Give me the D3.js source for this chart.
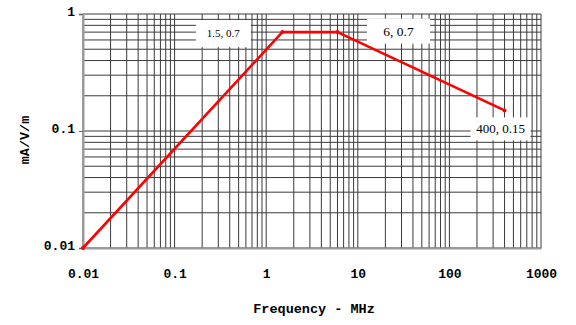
<!DOCTYPE html>
<html>
<head>
<meta charset="utf-8">
<script src="https://cdn.jsdelivr.net/npm/d3@7/dist/d3.min.js"></script>
<style>
  html, body { margin: 0; padding: 0; background: #fff; }
  svg { display: block; }
</style>
</head>
<body>
<svg id="chart" width="576" height="325"></svg>
<script>
// Emission limit curve: field strength (mA/V/m) versus frequency (MHz)
const freq = [0.01, 1.5, 6, 400];
const field = [0.01, 0.7, 0.7, 0.15];

// Labelled corner points: [frequency, value, offset x, offset y, font size, box width, box height]
const callouts = [
  [1.5, 0.7, -59, 1.5, 11, 55, 27],
  [6, 0.7, 61, -1, 13.5, 63, 25],
  [400, 0.15, -4, 18.5, 13, 60, 23]
];

const xTicks = [0.01, 0.1, 1, 10, 100, 1000];
const xTickLabels = ["0.01", "0.1", "1", "10", "100", "1000"];
const yTicks = [0.01, 0.1, 1];
const yTickLabels = ["0.01", "0.1", "1"];

const xTitle = "Frequency - MHz";
const yTitle = "mA/V/m";

const W = 576, H = 325;
const m = { left: 83, right: 35, top: 14, bottom: 77 };

const svg = d3.select("#chart");

const x = d3.scaleLog().domain([0.01, 1000]).range([m.left, W - m.right]);
const y = d3.scaleLog().domain([0.01, 1]).range([H - m.bottom, m.top]);

const monoFont = "'Liberation Mono', 'Courier New', monospace";
const serifFont = "'Liberation Serif', 'Times New Roman', serif";

// Full log grid: every 1..9 multiple within each decade
function logGrid(lo, hi) {
  const out = [];
  for (let d = lo; d < hi * 0.999; d *= 10) {
    for (let k = 1; k <= 9; k++) out.push(d * k);
  }
  out.push(hi);
  return out;
}
const xGrid = logGrid(0.01, 1000);
const yGrid = logGrid(0.01, 1);

const grid = svg.append("g").attr("stroke", "#3a3a3a").attr("stroke-width", 1);
grid.selectAll("line.v").data(xGrid).join("line")
  .attr("class", "v")
  .attr("x1", d => x(d)).attr("x2", d => x(d))
  .attr("y1", y(1)).attr("y2", y(0.01));
grid.selectAll("line.h").data(yGrid).join("line")
  .attr("class", "h")
  .attr("x1", x(0.01)).attr("x2", x(1000))
  .attr("y1", d => y(d)).attr("y2", d => y(d));

// Axes
const xAxis = d3.axisBottom(x).tickValues(xTicks)
  .tickFormat((d, i) => xTickLabels[i]).tickSize(0).tickPadding(21);
const gx = svg.append("g").attr("transform", `translate(0,${y(0.01)})`).call(xAxis);
gx.select(".domain").attr("stroke", "#999").attr("stroke-width", 2);
gx.selectAll("text").attr("font-family", monoFont).attr("font-weight", "bold")
  .attr("font-size", 13).attr("fill", "#000");

const yAxis = d3.axisLeft(y).tickValues(yTicks)
  .tickFormat((d, i) => yTickLabels[i]).tickSize(4).tickPadding(4);
const gy = svg.append("g").attr("transform", `translate(${x(0.01)},0)`).call(yAxis);
gy.select(".domain").attr("stroke", "#999").attr("stroke-width", 2);
gy.selectAll(".tick line").attr("stroke", "#666");
gy.selectAll("text").attr("font-family", monoFont).attr("font-weight", "bold")
  .attr("font-size", 13).attr("fill", "#000").attr("dy", "0.1em");

// Axis titles
svg.append("text")
  .attr("x", 314).attr("y", 313)
  .attr("text-anchor", "middle")
  .attr("font-family", monoFont).attr("font-weight", "bold").attr("font-size", 13.5)
  .text(xTitle);
svg.append("text")
  .attr("transform", `translate(29,140) rotate(-90)`)
  .attr("text-anchor", "middle")
  .attr("font-family", monoFont).attr("font-weight", "bold").attr("font-size", 13.5)
  .text(yTitle);

// Curve
const pts = freq.map((f, i) => [f, field[i]]);
svg.append("path")
  .datum(pts)
  .attr("fill", "none")
  .attr("stroke", "#ff0000")
  .attr("stroke-width", 2.6)
  .attr("stroke-linejoin", "round")
  .attr("d", d3.line().x(d => x(d[0])).y(d => y(d[1])));

svg.selectAll("circle.pt").data(pts).join("circle")
  .attr("class", "pt")
  .attr("cx", d => x(d[0])).attr("cy", d => y(d[1]))
  .attr("r", 2).attr("fill", "#ff0000");

// Value callouts on white boxes
const cg = svg.append("g");
callouts.forEach(([f, v, dx, dy, fs, bw, bh]) => {
  const g = cg.append("g").attr("transform", `translate(${x(f) + dx},${y(v) + dy})`);
  g.append("rect")
    .attr("x", -bw / 2).attr("y", -bh / 2)
    .attr("width", bw).attr("height", bh)
    .attr("fill", "#fff");
  g.append("text")
    .attr("text-anchor", "middle")
    .attr("dy", "0.35em")
    .attr("font-family", serifFont)
    .attr("font-size", fs)
    .attr("fill", "#000")
    .text(`${f}, ${v}`);
});
</script>
</body>
</html>
